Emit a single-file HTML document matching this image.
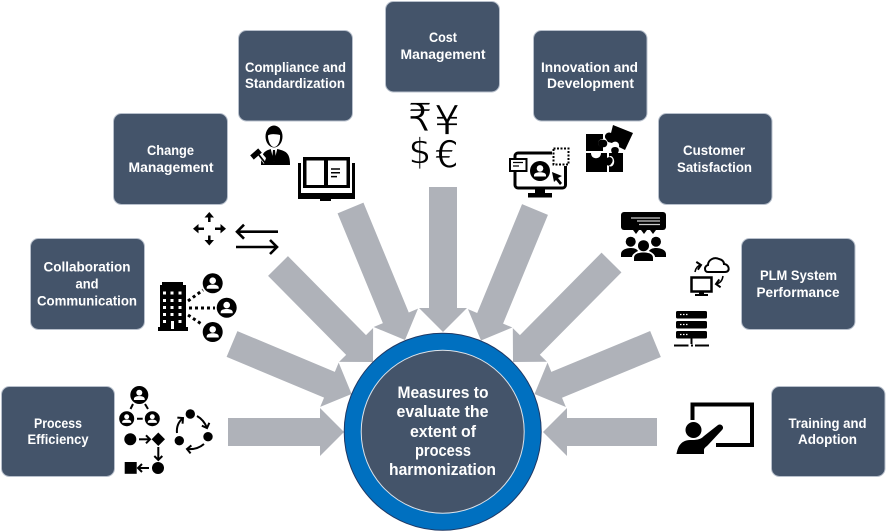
<!DOCTYPE html>
<html><head><meta charset="utf-8"><style>
html,body{margin:0;padding:0;background:#fff}
svg{display:block}
text{font-family:"Liberation Sans",sans-serif;font-weight:bold;fill:#fff;text-anchor:middle}
.b text{font-size:13.5px}
.c{font-size:17px}
.cur{font-family:"DejaVu Sans",sans-serif;font-weight:normal;fill:#000;stroke:#fff;stroke-width:.7px;paint-order:normal}
</style></head><body>
<svg width="886" height="531" viewBox="0 0 886 531" xmlns="http://www.w3.org/2000/svg">
<defs>
<g id="p"><circle r="10" fill="#000"/><circle cy="-2.6" r="3.3" fill="#fff"/><path d="M-6 5.500V4.400C-6 2.400-3.600 1.300 0 1.300S6 2.400 6 4.400V5.500Z" fill="#fff"/></g>
<marker id="ah" markerUnits="userSpaceOnUse" markerWidth="10" markerHeight="10" refX="5" refY="5" orient="auto"><path d="M1 1L5 5L1 9" fill="none" stroke="#000" stroke-width="2"/></marker>
</defs>

<!-- arrows -->
<g fill="#AFB2B9">
<polygon points="228,418 320,418 320,408 344,432 320,456 320,446 228,446"/>
<polygon points="657,418 567,418 567,408 543,432 567,456 567,446 657,446"/>
<polygon points="237.4,331.1 334.84,371.84 338.69,362.61 351.6,394 320.21,406.91 324.06,397.68 226.6,356.9"/>
<polygon points="287.93,256.13 366.01,335.11 373.1,328.06 373,362 339.06,361.9 346.15,354.85 268.07,275.87"/>
<polygon points="363.44,202.65 408.77,312.47 418.01,308.65 405,340 373.65,326.99 382.89,323.17 337.56,213.35"/>
<polygon points="429,187 429,308 419,308 443,332 467,308 457,308 457,187"/>
<polygon points="522.05,204.17 477.19,312.97 467.94,309.16 481,340.5 512.34,327.44 503.09,323.63 547.95,214.83"/>
<polygon points="601.55,252.66 519.92,335.1 512.81,328.07 513,362 546.93,361.81 539.82,354.78 621.45,272.34"/>
<polygon points="650.15,331.06 551.33,371.89 547.51,362.65 534.5,394 565.85,407.01 562.03,397.77 660.85,356.94"/>
</g>

<!-- boxes -->
<g fill="#44546A" stroke="#B8C0CC" stroke-width="1">
<rect x="1.500" y="386.500" width="113" height="90" rx="8"/>
<rect x="30.500" y="238.500" width="114" height="91" rx="8"/>
<rect x="113.500" y="113.500" width="114" height="91" rx="8"/>
<rect x="238.500" y="30.500" width="114" height="90.500" rx="8"/>
<rect x="385.500" y="1.500" width="114" height="90.500" rx="8"/>
<rect x="533.500" y="30.500" width="113.500" height="90.500" rx="8"/>
<rect x="658.500" y="113.500" width="113.500" height="91" rx="8"/>
<rect x="741.500" y="238.500" width="113.500" height="91" rx="8"/>
<rect x="771.500" y="386.500" width="113.500" height="90" rx="8"/>
</g>

<g class="b">
<text x="58" y="428" textLength="48" lengthAdjust="spacingAndGlyphs">Process</text>
<text x="58" y="444" textLength="61" lengthAdjust="spacingAndGlyphs">Efficiency</text>
<text x="87" y="271.500" textLength="87" lengthAdjust="spacingAndGlyphs">Collaboration</text>
<text x="87" y="288.500" textLength="23" lengthAdjust="spacingAndGlyphs">and</text>
<text x="87" y="305.500" textLength="100" lengthAdjust="spacingAndGlyphs">Communication</text>
<text x="170.500" y="155" textLength="47" lengthAdjust="spacingAndGlyphs">Change</text>
<text x="171" y="172" textLength="85" lengthAdjust="spacingAndGlyphs">Management</text>
<text x="295.500" y="72" textLength="101" lengthAdjust="spacingAndGlyphs">Compliance and</text>
<text x="295" y="88" textLength="100" lengthAdjust="spacingAndGlyphs">Standardization</text>
<text x="443" y="42" textLength="28" lengthAdjust="spacingAndGlyphs">Cost</text>
<text x="443" y="59" textLength="85" lengthAdjust="spacingAndGlyphs">Management</text>
<text x="589.500" y="72" textLength="97" lengthAdjust="spacingAndGlyphs">Innovation and</text>
<text x="590.500" y="88" textLength="87" lengthAdjust="spacingAndGlyphs">Development</text>
<text x="714" y="155" textLength="62" lengthAdjust="spacingAndGlyphs">Customer</text>
<text x="714.500" y="172" textLength="75" lengthAdjust="spacingAndGlyphs">Satisfaction</text>
<text x="798.500" y="280" textLength="77" lengthAdjust="spacingAndGlyphs">PLM System</text>
<text x="798" y="297" textLength="83" lengthAdjust="spacingAndGlyphs">Performance</text>
<text x="827.500" y="428" textLength="78" lengthAdjust="spacingAndGlyphs">Training and</text>
<text x="827.500" y="444" textLength="59" lengthAdjust="spacingAndGlyphs">Adoption</text>
</g>

<!-- centre -->
<circle cx="442.700" cy="431.700" r="98.500" fill="#0070C0" stroke="#1F3864" stroke-width="1"/>
<circle cx="442.700" cy="431.700" r="81.500" fill="#44546A" stroke="#DDE3EA" stroke-width="1"/>
<text class="c" x="443" y="398" textLength="91" lengthAdjust="spacingAndGlyphs">Measures to</text>
<text class="c" x="442.500" y="417" textLength="92" lengthAdjust="spacingAndGlyphs">evaluate the</text>
<text class="c" x="443" y="437" textLength="66" lengthAdjust="spacingAndGlyphs">extent of</text>
<text class="c" x="443" y="456" textLength="56" lengthAdjust="spacingAndGlyphs">process</text>
<text class="c" x="442.500" y="475" textLength="107" lengthAdjust="spacingAndGlyphs">harmonization</text>

<!-- process icons -->
<use href="#p" transform="translate(139.300,395) scale(.9)"/>
<use href="#p" transform="translate(126.700,418.700) scale(.75)"/>
<use href="#p" transform="translate(152.300,418.700) scale(.75)"/>
<g stroke="#000" stroke-width="2" fill="none">
<path d="M133 404L130.500 409M145 404L148 409M137 418.700H142.700"/>
<path d="M139 439.300H150" marker-end="url(#ah)"/>
<path d="M158.300 447V460" marker-end="url(#ah)"/>
<path d="M149 468H138" marker-end="url(#ah)"/>
<path d="M197 416Q204 420 207 428" marker-end="url(#ah)"/>
<path d="M204 444Q197 450 187 449" marker-end="url(#ah)"/>
<path d="M177 433Q176 424 183 418" marker-end="url(#ah)"/>
</g>
<circle cx="130.300" cy="439.300" r="6"/><polygon points="158.300,432.500 165,439.300 158.300,446 151.600,439.300"/>
<circle cx="158" cy="468" r="6"/><rect x="124.700" y="462" width="12" height="11.800"/>
<circle cx="190.300" cy="414" r="4.700"/><circle cx="208" cy="436.700" r="4.700"/><circle cx="179.300" cy="440.700" r="4.700"/>

<!-- collaboration icons -->
<rect x="162" y="282" width="21" height="5"/><rect x="160" y="285" width="26" height="44"/><rect x="158" y="327" width="30" height="4"/>
<g fill="#fff">
<rect x="163" y="291.500" width="3" height="3"/><rect x="170.500" y="291.500" width="3" height="3"/><rect x="178.500" y="291.500" width="3" height="3"/>
<rect x="163" y="299" width="3" height="3"/><rect x="170.500" y="299" width="3" height="3"/><rect x="178.500" y="299" width="3" height="3"/>
<rect x="163" y="306" width="3" height="3"/><rect x="170.500" y="306" width="3" height="3"/><rect x="178.500" y="306" width="3" height="3"/>
<rect x="163" y="313" width="3" height="3"/><rect x="170.500" y="313" width="3" height="3"/><rect x="178.500" y="313" width="3" height="3"/>
<rect x="163" y="320" width="3" height="3"/><rect x="178.500" y="320" width="3" height="3"/><rect x="171" y="321" width="3" height="8"/>
</g>
<g stroke="#000" stroke-width="3" stroke-dasharray="3 3" fill="none"><path d="M188 301L203 290M189 308H215M188 315L203 325"/></g>
<use href="#p" transform="translate(212.700,283.300)"/><use href="#p" transform="translate(226.700,307.700)"/><use href="#p" transform="translate(212.700,332)"/>

<!-- change icons -->
<g stroke="#000" stroke-width="2.500" fill="none">
<path d="M209.300 222V215M209.300 235.500V242M204 228.700H196M215 228.700H223"/>
<path d="M278 231.700H238M244 224.700L237 231.700L244 238.700M236 247H277M270 240L277 247L270 254" stroke-width="2.600"/>
</g>
<polygon points="209.300,212 204.500,217.500 214,217.500"/><polygon points="209.300,245.500 204.500,240 214,240"/>
<polygon points="193,228.700 198.500,224 198.500,233.400"/><polygon points="226,228.700 220.500,224 220.500,233.400"/>

<!-- compliance icons -->
<path d="M261 165C261 156 263 152 268 150L274 148L281 150C288 152 290 156 290 165Z"/>
<path d="M270.500 148L274 162L277.500 148Z" fill="#fff"/><path d="M273 150H275L276 160L274 162L272 160Z"/>
<ellipse cx="274" cy="136.500" rx="8.500" ry="11"/><path d="M268 135.500C270 133.500 276 134 280 135C280.500 141 278 147 274 147C270.500 147 268 141 268 135.500Z" fill="#fff"/>
<path d="M264 164L256 153L260 151L266 158Z" fill="#fff"/>
<g stroke="#000"><path d="M259 155L266 164" stroke-width="1.800"/><path d="M252 157.500L260 150.500" stroke-width="5.500"/></g>

<path d="M303 157H350V188H303Z"/>
<rect x="306.500" y="160.500" width="17.500" height="24.500" fill="#fff"/><rect x="328" y="160.500" width="18.500" height="24.500" fill="#fff"/>
<path d="M299.500 163V197.500H353.500V163" fill="none" stroke="#000" stroke-width="3"/>
<rect x="299" y="193" width="55" height="6"/>
<path d="M331 169H340M331 172.800H340M331 176.600H337" stroke="#000" stroke-width="1.500" fill="none"/>
<rect x="320" y="197" width="11" height="4"/>

<!-- currency -->
<text class="cur" x="420" y="131" font-size="39">₹</text>
<text class="cur" x="447" y="134.500" font-size="41">¥</text>
<text class="cur" x="420" y="163.500" font-size="36">$</text>
<text class="cur" x="447" y="167.500" font-size="37">€</text>

<!-- monitor -->
<rect x="515" y="153" width="50.500" height="35" rx="3" fill="#fff" stroke="#000" stroke-width="3"/>
<rect x="535" y="188" width="10" height="6"/><rect x="528" y="193" width="24" height="4.500"/>
<use href="#p" transform="translate(540,171)"/>
<rect x="552" y="147" width="18" height="19" fill="#fff"/>
<rect x="553.500" y="148.500" width="15" height="16" fill="none" stroke="#000" stroke-width="2" stroke-dasharray="2 1.500"/>
<rect x="510" y="159" width="16.500" height="12" fill="#fff" stroke="#000" stroke-width="2"/>
<path d="M513 162.500H523M513 166H519" stroke="#000" stroke-width="1.300"/>
<polygon points="552,172 562,176 558,178 562,183 560,185 556,180 554,182"/>

<!-- puzzle -->
<path d="M586 134H603V139C600 139 598 141 598 143S600 147 603 147V151H586Z"/>
<path d="M598 143C598 140 601 139 605 140C608 141 608 146 605 147C601 148 598 146 598 143Z"/>
<path d="M586 153H591C591 160 601 160 601 153H607V158C611 155 615 160 611 164C610 166 608 166 607 165V172H586Z"/>
<path d="M609 153H612C610 149 612 147 615 147S620 149 618 153H623V172H609V166C612 168 615 164 614 160C613 156 610 155 609 157Z"/>
<path d="M613 125L633 133L625 150L619 147C620 142 615 140 612 143L608 142L606 139C603 136 607 131 611 133Z"/>

<!-- audience -->
<rect x="621" y="212" width="45" height="18" rx="3"/>
<polygon points="633,230 639,230 636,234"/><polygon points="641,230 647,230 644,234"/><polygon points="650,230 656,230 653,234"/>
<path d="M631 218H660M637 221H660M639 224.500H660" stroke="#ccc" stroke-width="1.300"/>
<circle cx="630.700" cy="241.700" r="5"/><circle cx="656" cy="241.700" r="5"/>
<path d="M621 257V254C621 250 626 248 631 248C634 248 637 249 638 251C634 253 632 255 632 257Z"/>
<path d="M666 257V254C666 250 661 248 656 248C653 248 650 249 649 251C653 253 655 255 655 257Z"/>
<circle cx="643.500" cy="245.700" r="5.500"/>
<path d="M634 261V258C634 254 638 252.500 643.500 252.500S653 254 653 258V261Z"/>

<!-- plm -->
<path d="M708 272C704 272 704 266 708 265C708 260 714 256.500 719 259C723 260 724 262 724 264C729 264 731 272 725 272Z" fill="#fff" stroke="#000" stroke-width="2"/>
<rect x="691.500" y="277.500" width="20" height="14" fill="#fff" stroke="#000" stroke-width="2.500"/>
<rect x="699" y="292" width="5" height="3"/><rect x="695" y="294" width="13" height="2"/>
<g stroke="#000" stroke-width="1.500" fill="none"><path d="M695 272Q696 266 701 265" marker-end="url(#ah)"/><path d="M723 276Q722 283 716 284" marker-end="url(#ah)"/></g>
<rect x="676" y="311" width="31" height="7.500" rx="1.500"/><rect x="676" y="321" width="31" height="7.500" rx="1.500"/><rect x="676" y="331" width="31" height="7.500" rx="1.500"/>
<path d="M680 314.500H689M680 324.500H689M680 334.500H689" stroke="#fff" stroke-width="1.300" stroke-dasharray="1.500 1.500"/>
<path d="M691.500 338V344" stroke="#000" stroke-width="2"/>
<path d="M674 345.500H688.500M691 345.500H693M695 345.500H709" stroke="#000" stroke-width="2"/>

<!-- training -->
<path d="M692.500 420V404.500H752V445H716" fill="none" stroke="#000" stroke-width="4"/>
<circle cx="693.500" cy="430" r="8"/>
<path d="M676.500 454C678 446 681 440.500 690 440C696 440 700 440 704 436L718 425C721 423 725 427 722 430L708 445C706 447 704 448 704 450V454Z"/>
</svg>
</body></html>
